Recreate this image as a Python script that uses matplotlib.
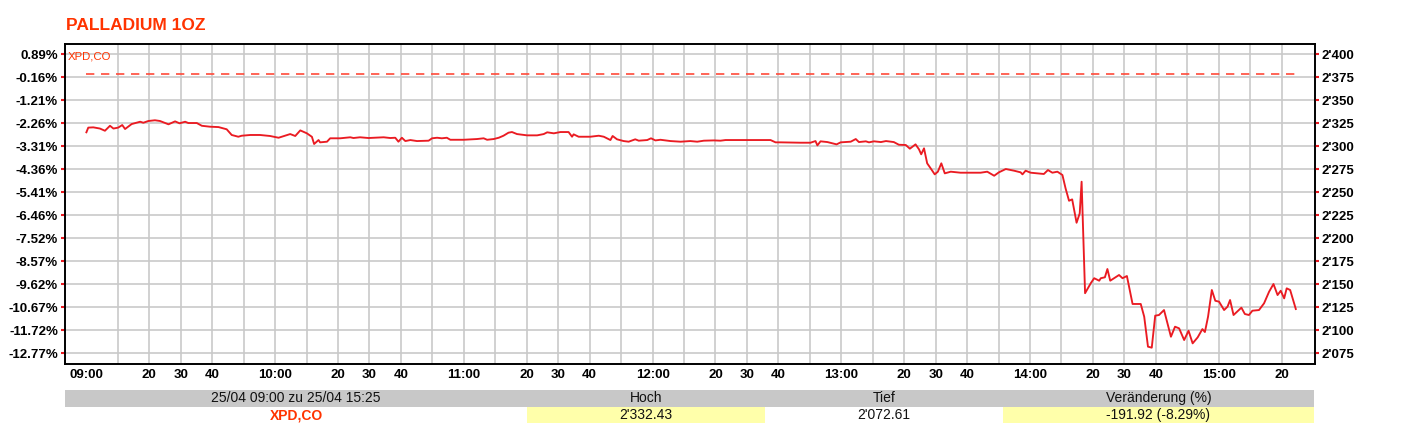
import matplotlib
matplotlib.use("Agg")
import matplotlib.pyplot as plt
from matplotlib.patches import Rectangle

plt.rcParams['font.family'] = ['Liberation Sans', 'DejaVu Sans']

# ---------------- data ----------------
title = "PALLADIUM 1OZ"
symbol = "XPD,CO"
prev_close = 2378.8

# minutes after 09:00
minutes = [0, 0.6, 2.2, 4.3, 5.9, 7.5, 8.6, 10.1, 11.4, 12.3, 14.4, 17.1, 18.1, 19.7, 21.8, 23.4,
           26.1, 28.2, 29.6, 31.4, 32.4, 35.1, 36.7, 39.3, 42.0, 44.6, 46.2, 48.3, 49.4, 52.1,
           55.2, 58.4, 61.1, 64.8, 66.4, 68.0, 70.1, 71.7, 72.4, 73.8, 74.3, 76.5, 77.5, 80.7,
           83.9, 84.9, 87.0, 89.7, 94.5, 96.6,
           98.2, 99.2, 100.3, 101.4, 103.0, 105.1, 108.8, 109.9, 111.5, 113.0, 114.6, 115.7,
           119.9, 124.2, 126.3, 127.4, 129.5, 131.1, 132.6, 134.2, 135.3, 136.9, 140.1, 143.3,
           145.4, 146.5, 148.6, 150.7, 153.3, 154.4, 154.9, 156.5, 160.2, 162.9, 164.5, 166.6,
           167.3, 168.7, 170.8, 172.4, 174.5, 175.6, 178.3, 179.5, 180.9, 182.5, 185.7, 188.9,
           192.0, 194.2, 196.3,
           199.5, 201.6, 203.2, 217.5, 219.1, 220.7, 227.0, 230.2, 231.8, 232.4, 233.4, 235.6,
           238.5, 239.8, 243.0, 244.6, 245.6, 247.8, 248.8, 250.4, 252.6, 254.2, 256.7, 258.3,
           260.5, 261.8, 263.6, 264.7, 265.4, 266.3, 267.3, 268.4, 269.7, 270.7, 271.8, 272.9,
           274.8, 277.9, 284.3, 286.4, 288.6, 290.1, 292.3, 294.9, 297.0, 297.6, 298.6, 300.2,
           304.4, 305.7, 307.1, 308.7, 310.3, 311.3, 312.4, 313.4, 314.8, 315.8, 316.4, 317.5,
           319.3, 320.4, 322.0, 322.5, 323.8, 324.6, 325.5, 328.3, 329.4, 330.8, 332.6, 335.2,
           336.3, 337.5, 338.7, 339.8, 341.0, 342.6, 344.8, 346.1, 347.4, 349.0, 350.4, 351.7,
           353.3, 354.8, 355.6, 356.6, 357.8, 358.9, 360.1, 361.7, 362.8, 363.6, 364.7, 367.2,
           368.3, 369.6, 370.7, 372.8, 374.4, 376.0, 377.4, 378.7, 379.7, 380.8, 381.6, 382.7,
           384.5]

prices = [2314.9, 2320.0, 2320.3, 2319.0, 2316.6, 2322.0, 2319.0, 2320.0, 2322.8, 2318.5, 2323.9,
          2326.4, 2325.3, 2327.2, 2328.0, 2327.2, 2323.6, 2326.8, 2324.7, 2326.4, 2325.0, 2325.0,
          2322.0, 2321.0, 2320.6, 2318.2, 2312.0, 2310.1, 2311.2, 2312.0, 2312.0, 2310.9, 2309.0,
          2313.0, 2310.9, 2317.0, 2313.8, 2310.0, 2302.2, 2306.5, 2304.0, 2304.7, 2308.4, 2308.4,
          2309.5, 2308.7, 2309.5, 2308.7, 2309.5, 2308.7,
          2309.0, 2304.7, 2309.0, 2305.4, 2306.5, 2305.4, 2305.8, 2308.4, 2309.0, 2308.4, 2309.0,
          2306.8, 2306.8, 2307.6, 2308.4, 2306.8, 2307.6, 2309.0, 2311.2, 2314.5, 2315.2, 2313.0,
          2311.6, 2311.6, 2313.0, 2314.9, 2313.8, 2315.2, 2315.2, 2310.1, 2312.7, 2310.1, 2310.1,
          2311.2, 2310.1, 2306.5, 2310.9, 2307.3, 2305.4, 2304.7, 2307.3, 2305.8, 2306.5, 2308.4,
          2306.1, 2306.8, 2305.4, 2304.7, 2305.4, 2304.7, 2305.8,
          2306.1, 2305.8, 2306.5, 2306.5, 2304.0, 2304.0, 2303.6, 2303.6, 2305.4, 2300.7, 2305.1,
          2304.3, 2301.8, 2304.0, 2304.7, 2307.6, 2304.3, 2305.1, 2304.0, 2305.1, 2304.3, 2305.4,
          2304.3, 2301.4, 2301.1, 2297.1, 2301.8, 2296.4, 2291.0, 2297.5, 2281.2, 2275.8, 2269.2,
          2272.1, 2281.2, 2270.3, 2272.1, 2271.0, 2271.0, 2272.1, 2267.7, 2271.4, 2275.0, 2273.2,
          2271.4, 2269.2, 2273.2, 2271.0,
          2269.6, 2273.9, 2271.0, 2272.1, 2268.5, 2254.0, 2240.5, 2242.0, 2216.6, 2226.8, 2261.2,
          2140.0, 2150.8, 2156.3, 2153.6, 2156.3, 2157.3, 2166.3, 2153.6, 2159.8, 2156.3, 2158.7,
          2128.3, 2128.3, 2114.5, 2081.9, 2080.8, 2115.6, 2116.3, 2121.7, 2092.7, 2103.6, 2101.8,
          2089.1, 2099.2, 2085.5, 2092.0, 2101.0, 2097.8, 2114.5, 2143.5, 2131.8, 2130.8, 2121.7,
          2125.4, 2132.6, 2116.3, 2124.3, 2117.4, 2116.3, 2121.0, 2121.7, 2129.0, 2141.6, 2150.0,
          2138.0, 2142.7, 2134.4, 2145.3, 2143.5, 2122.8]

price_ticks = [2400, 2375, 2350, 2325, 2300, 2275, 2250, 2225, 2200, 2175, 2150, 2125, 2100, 2075]
price_labels = ["2'400", "2'375", "2'350", "2'325", "2'300", "2'275", "2'250", "2'225",
                "2'200", "2'175", "2'150", "2'125", "2'100", "2'075"]
pct_labels = ["0.89%", "-0.16%", "-1.21%", "-2.26%", "-3.31%", "-4.36%", "-5.41%", "-6.46%",
              "-7.52%", "-8.57%", "-9.62%", "-10.67%", "-11.72%", "-12.77%"]

# x ticks every 10 minutes from 09:00 to 15:20; "" = gridline without label
x_tick_pos = list(range(0, 390, 10))
x_labels = ["09:00", "", "20", "30", "40", "",
            "10:00", "", "20", "30", "40", "",
            "11:00", "", "20", "30", "40", "",
            "12:00", "", "20", "30", "40", "",
            "13:00", "", "20", "30", "40", "",
            "14:00", "", "20", "30", "40", "",
            "15:00", "", "20"]

table_headers = ["25/04 09:00 zu 25/04 15:25", "Hoch", "Tief", "Veränderung (%)"]
table_values = ["XPD,CO", "2'332.43", "2'072.61", "-191.92 (-8.29%)"]

# ---------------- figure ----------------
W, H = 1401, 448
fig = plt.figure(figsize=(W / 100, H / 100), dpi=100)
L, R, T, B = 65, 1315, 44, 363.5
ax = fig.add_axes([L / W, 1 - B / H, (R - L) / W, (B - T) / H])

RED = '#ea1b22'
TITLE_RED = '#ff3300'
GRID = '#c9c9c9'

ax.plot(minutes, prices, color=RED, lw=1.35, zorder=3)
ax.plot([minutes[0], minutes[-1]], [prev_close, prev_close], color='#ff4a3a', lw=1.2,
        dashes=(5, 4), zorder=3)

ax.set_xlim(-6.8, 390.6)
ax.set_ylim(2063.6, 2410.9)

ax.set_yticks(price_ticks)
ax.set_yticklabels(pct_labels, fontsize=9.5, fontweight='bold')
ax.set_xticks(x_tick_pos)
ax.set_xticklabels(x_labels, fontsize=9.5, fontweight='bold')
ax.tick_params(axis='x', length=0, pad=4)
ax.tick_params(axis='y', length=3, width=1.5, color=RED, pad=2)
ax.grid(True, axis='both', color=GRID, lw=1.2)
ax.set_axisbelow(True)
# no gridline at 09:00
ax.xaxis.get_major_ticks()[0].gridline.set_visible(False)
for s in ax.spines.values():
    s.set_linewidth(1.2)
    s.set_color('black')

ax2 = ax.twinx()
ax2.set_ylim(ax.get_ylim())
ax2.set_yticks(price_ticks)
ax2.set_yticklabels(price_labels, fontsize=9.5, fontweight='bold')
ax2.tick_params(axis='y', length=3, width=1.5, color=RED, pad=2)
for s in ax2.spines.values():
    s.set_linewidth(1.2)

ax.text(0.002, 0.975, symbol, transform=ax.transAxes, ha='left', va='top',
        color=TITLE_RED, fontsize=8.2)

fig.text(66 / W, 1 - 25 / H, title, ha='left', va='center', color=TITLE_RED,
         fontsize=12.5, fontweight='bold')

# ---------------- bottom table ----------------
col_edges = [65, 527, 765, 1003, 1314]
row1_top, row1_bot = 390, 406.7
row2_bot = 423.3
fig.patches.append(Rectangle((col_edges[0] / W, 1 - row1_bot / H),
                             (col_edges[-1] - col_edges[0]) / W, (row1_bot - row1_top) / H,
                             transform=fig.transFigure, facecolor='#c8c8c8', edgecolor='none'))
for ci in (1, 3):
    fig.patches.append(Rectangle((col_edges[ci] / W, 1 - row2_bot / H),
                                 (col_edges[ci + 1] - col_edges[ci]) / W, (row2_bot - row1_bot) / H,
                                 transform=fig.transFigure, facecolor='#ffffaa', edgecolor='none'))
for i in range(4):
    cx = (col_edges[i] + col_edges[i + 1]) / 2 / W
    fig.text(cx, 1 - (row1_top + row1_bot) / 2 / H, table_headers[i], ha='center', va='center',
             fontsize=10, color='#111111')
    if i == 0:
        fig.text(cx, 1 - (row1_bot + row2_bot) / 2 / H, table_values[i], ha='center', va='center',
                 fontsize=10, color=TITLE_RED, fontweight='bold')
    else:
        fig.text(cx, 1 - (row1_bot + row2_bot) / 2 / H, table_values[i], ha='center', va='center',
                 fontsize=10, color='#111111')

fig.savefig('out.png', dpi=100, facecolor='white')
